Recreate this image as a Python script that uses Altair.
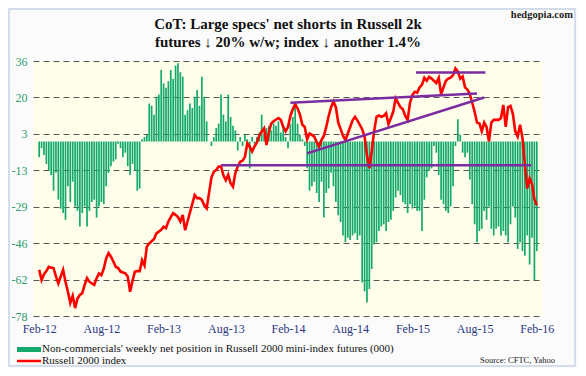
import altair as alt
import pandas as pd

# ---- weekly net position of non-commercials (000 contracts), Feb-12 .. Feb-16
net_a = [-7, -3, -6, -10, -13, -15, -22, -14, -26, -30, -32, -35, -20, -27, -18, -29, -31, -38, -32, -29,
         -38, -31, -27, -26, -34, -29, -27, -28, -20, -14, -11, -9, -8, -1, -3, -7, -5, -11, -15, -10,
         -13, -22, -21]
net_b = [1, 2, 3, 17, 16, 12, 20, 21, 32, 26, 24, 27, 32, 28, 34, 35, 31, 29, 12, 14,
         17, 15, 20, 23, 16, 29, 20, 9, 0, -2, 2, 6, 8, 21, 12, 9, 21, 11, 7, 5]
net_c = [-4, 2, -2, 3, 1, -12, 2, -1, 2, 4, 12, 3, 6, 7, 5, 8, 7, 9, 4, 6,
         2, -3, 8, 11, 16, 8, 3, 1, -2, -12, -22, -20, -18, -23, -27, -18, -34, -23, -21, -14,
         -20]
net_d = [-27, -33, -36, -42, -45, -43, -44, -42, -41, -44, -42, -63, -67, -72, -66, -57, -46, -45, -40, -38,
         -37, -40, -36, -35, -31, -25, -22, -24, -27, -28, -32, -28, -30, -29, -31, -31, -40, -26, -16, -13,
         -12]
net_e = [-2, -5, -15, -26, -28, -31, -32, -29, -20, -2, 10, 3, -5, -7, -5, -17, -28, -37, -45, -40,
         -39, -31, -35, -29, -39, -42, -39, -38, -42, -40, -42, -45, -37, -29, -34, -48, -45, -49, -51, -42,
         -55, -43, -62, -49]
net_position = net_a + net_b + net_c + net_d + net_e

# ---- Russell 2000 index, weekly
idx_a = [825, 802, 815, 822, 832, 830, 829, 810, 794, 810, 825, 798, 775, 750, 766, 738, 760, 768, 772, 791,
         806, 798, 794, 791, 806, 817, 813, 828, 851, 863, 855, 844, 832, 829, 821, 819, 817, 810, 775, 800,
         821, 822, 822]
idx_b = [847, 835, 878, 885, 890, 895, 908, 912, 916, 923, 920, 935, 945, 954, 950, 945, 935, 950, 915, 935,
         955, 975, 995, 988]
idx_c = [988, 984, 972, 965, 1000, 1035, 1048, 1052, 1060, 1060, 1040, 1029, 1041, 1022, 1014, 1045, 1060]
idx_d = [1071, 1073, 1082, 1113, 1105, 1094, 1106, 1115, 1130, 1140, 1147, 1109, 1138, 1158, 1163, 1167, 1170,
         1166, 1150, 1140, 1150, 1175, 1190, 1202, 1192, 1178, 1155, 1150, 1122, 1135, 1132, 1128, 1115, 1105,
         1120, 1130, 1150, 1175, 1195, 1208, 1195]
idx_e = [1160, 1145, 1130, 1120, 1135, 1150, 1165, 1173, 1165, 1155, 1145, 1128, 1086, 1056, 1095, 1140, 1173,
         1176, 1173, 1175, 1181, 1156, 1170, 1185, 1215, 1205, 1195, 1190, 1175, 1166, 1205, 1223, 1230, 1228,
         1240, 1246, 1262, 1255, 1264, 1260]
idx_f = [1255, 1250, 1262, 1225, 1240, 1255, 1260, 1262, 1268, 1283, 1276, 1260, 1265, 1240, 1235, 1225, 1205,
         1185, 1160, 1158, 1140, 1160, 1150, 1117, 1160, 1166, 1166, 1166, 1170, 1200, 1150, 1195, 1198, 1180,
         1140, 1128, 1155, 1125, 1064, 1010, 1033, 1020, 985, 972]
russell = idx_a + idx_b + idx_c + idx_d + idx_e + idx_f

# ---- purple trend lines (week index, index level)
trend_x1 = [76, 105, 112, 157.5]
trend_y1 = [1063, 1205, 1090, 1274]
trend_x2 = [205.7, 183, 186, 186.5]
trend_y2 = [1063, 1226, 1217, 1274]

# ---- axis labels
tick_weeks = [0, 26, 52, 78, 104, 130, 156, 182, 208]
tick_labels = ["Feb-12", "Aug-12", "Feb-13", "Aug-13", "Feb-14", "Aug-14", "Feb-15", "Aug-15", "Feb-16"]
left_labels = ["-78", "-62", "-46", "-29", "-13", "3", "20", "36"]
right_labels = ["720", "803", "886", "968", "1051", "1134", "1217", "1300"]

title_lines = ["CoT: Large specs' net shorts in Russell 2k", "futures \u2193 20% w/w; index \u2193 another 1.4%"]
legend_bar = "Non-commercials' weekly net position in Russell 2000 mini-index futures (000)"
legend_line = "Russell 2000 index"

SERIF = "Liberation Serif"
L_MIN, L_MAX = -78, 36
R_MIN, R_MAX = 720, 1300
BAR_GREEN = "#13a96c"

bars_df = pd.DataFrame({"week": list(range(len(net_position))), "net": net_position})
line_df = pd.DataFrame({"week": list(range(len(russell))), "idx": russell})
trend_df = pd.DataFrame({"x1": trend_x1, "y1": trend_y1, "x2": trend_x2, "y2": trend_y2})

left_vals = [L_MIN + k * (L_MAX - L_MIN) / 7 for k in range(8)]
right_vals = [R_MIN + k * (R_MAX - R_MIN) / 7 for k in range(8)]

def js_list(items):
    return "[" + ",".join("'" + s + "'" for s in items) + "]"

x_enc = alt.X(
    "week:Q",
    scale=alt.Scale(domain=[-0.5, 208.5], nice=False, zero=False),
    axis=alt.Axis(
        values=tick_weeks,
        labelExpr=js_list(tick_labels) + "[round(datum.value/26)]",
        title=None, grid=False, domain=False, ticks=False,
        labelFont=SERIF, labelFontSize=12, labelColor="#2a3780", labelPadding=7,
    ),
)

bars = alt.Chart(bars_df).mark_bar(width=1.7, color=BAR_GREEN).encode(
    x=x_enc,
    y=alt.Y(
        "net:Q",
        scale=alt.Scale(domain=[L_MIN, L_MAX], nice=False, zero=False),
        axis=alt.Axis(
            values=left_vals, orient="left",
            labelExpr=js_list(left_labels) + "[round((datum.value-(%g))/(%g))]" % (L_MIN, (L_MAX - L_MIN) / 7),
            title=None, grid=True, gridDash=[6, 4], gridColor="#555555", gridWidth=1,
            domain=False, ticks=False,
            labelFont=SERIF, labelFontSize=12, labelColor="#2a9d6a", labelPadding=6,
        ),
    ),
    y2=alt.datum(0),
)

right_scale = alt.Scale(domain=[R_MIN, R_MAX], nice=False, zero=False)
line = alt.Chart(line_df).mark_line(color="#ff0000", strokeWidth=2.6).encode(
    x=alt.X("week:Q"),
    y=alt.Y(
        "idx:Q", scale=right_scale,
        axis=alt.Axis(
            values=right_vals, orient="right",
            labelExpr=js_list(right_labels) + "[round((datum.value-(%g))/(%g))]" % (R_MIN, (R_MAX - R_MIN) / 7),
            title=None, grid=False, domain=False, ticks=False,
            labelFont=SERIF, labelFontSize=12, labelColor="#e0302e", labelPadding=9,
        ),
    ),
)
trend = alt.Chart(trend_df).mark_rule(color="#7a2ca0", strokeWidth=2.5).encode(
    x="x1:Q", x2="x2:Q", y=alt.Y("y1:Q", scale=right_scale, axis=None), y2="y2:Q"
)

one = pd.DataFrame({"a": [0]})
border = alt.Chart(one).mark_rect(fillOpacity=0, stroke="#c8d4e6", strokeWidth=1.5).encode(
    x=alt.value(-24), x2=alt.value(542), y=alt.value(-52), y2=alt.value(305)
)
title1 = alt.Chart(one).mark_text(text=title_lines[0], font=SERIF, fontSize=15, fontWeight="bold",
                                  align="center", baseline="middle", color="#111").encode(
    x=alt.value(255), y=alt.value(-37))
title2 = alt.Chart(one).mark_text(text=title_lines[1], font=SERIF, fontSize=15, fontWeight="bold",
                                  align="center", baseline="middle", color="#111").encode(
    x=alt.value(255), y=alt.value(-19))
site = alt.Chart(one).mark_text(text="hedgopia.com", font=SERIF, fontSize=10.5, fontWeight="bold",
                                align="right", baseline="middle", color="#222").encode(
    x=alt.value(540), y=alt.value(-46))
sw_bar = alt.Chart(one).mark_rect(color=BAR_GREEN).encode(
    x=alt.value(-16), x2=alt.value(8), y=alt.value(286), y2=alt.value(291))
txt_bar = alt.Chart(one).mark_text(text=legend_bar, font=SERIF, fontSize=11, align="left",
                                   baseline="middle", color="#111").encode(x=alt.value(9), y=alt.value(288))
sw_line = alt.Chart(one).mark_rule(color="#ff0000", strokeWidth=2.5).encode(
    x=alt.value(-16), x2=alt.value(8), y=alt.value(300))
txt_line = alt.Chart(one).mark_text(text=legend_line, font=SERIF, fontSize=11, align="left",
                                    baseline="middle", color="#111").encode(x=alt.value(9), y=alt.value(300))
source = alt.Chart(one).mark_text(text="Source: CFTC, Yahoo", font=SERIF, fontSize=8.5, align="right",
                                  baseline="middle", color="#222").encode(x=alt.value(522), y=alt.value(299))

chart = alt.layer(
    bars, alt.layer(line, trend), border, title1, title2, site, sw_bar, txt_bar, sw_line, txt_line, source
).resolve_scale(y="independent").properties(
    width=510, height=255,
    autosize=alt.AutoSizeParams(type="none"),
    padding={"left": 25, "top": 53, "right": 35, "bottom": 52},
    background="#fbfbfb",
).configure_view(fill="#fefeea", stroke=None)

chart.save("out.html", embed_options={"renderer": "svg", "actions": False})
